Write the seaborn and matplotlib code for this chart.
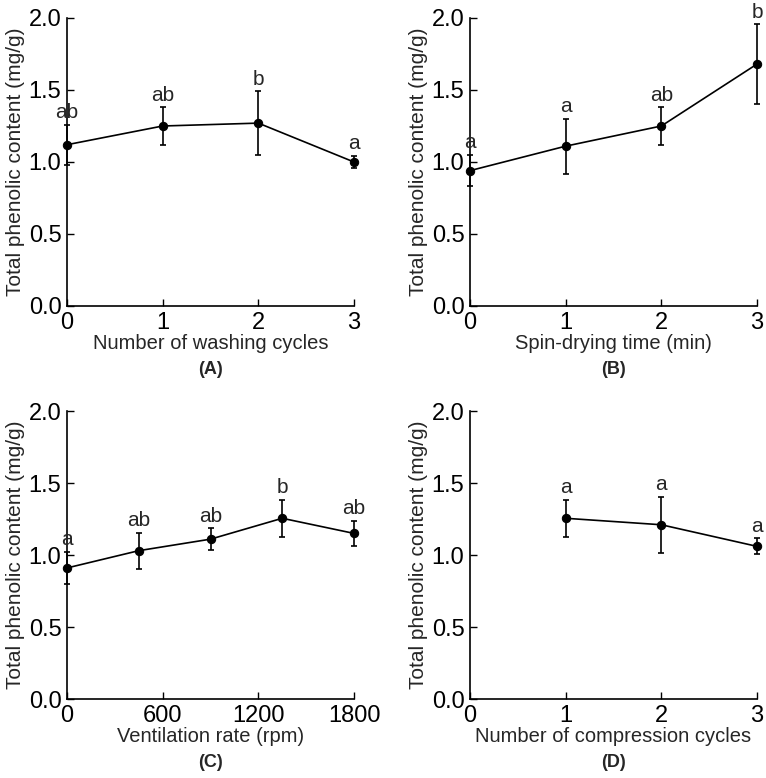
import matplotlib
matplotlib.use("Agg")
import matplotlib.pyplot as plt
import seaborn as sns
import numpy as np
import pandas as pd

# ---- data ----
wash_x = [0, 1, 2, 3]
wash_mean = [1.12, 1.25, 1.27, 1.00]
wash_sd = [0.14, 0.13, 0.22, 0.04]
wash_letters = ["ab", "ab", "b", "a"]

spin_x = [0, 1, 2, 3]
spin_mean = [0.94, 1.11, 1.25, 1.68]
spin_sd = [0.11, 0.19, 0.13, 0.275]
spin_letters = ["a", "a", "ab", "b"]

vent_x = [0, 450, 900, 1350, 1800]
vent_mean = [0.91, 1.03, 1.11, 1.255, 1.15]
vent_sd = [0.11, 0.125, 0.075, 0.13, 0.085]
vent_letters = ["a", "ab", "ab", "b", "ab"]

comp_x = [1, 2, 3]
comp_mean = [1.255, 1.21, 1.06]
comp_sd = [0.13, 0.195, 0.055]
comp_letters = ["a", "a", "a"]

ylabel = "Total phenolic content (mg/g)"
panels = [
    dict(x=wash_x, m=wash_mean, s=wash_sd, l=wash_letters, xlabel="Number of washing cycles",
         cap="(A)", xlim=(0, 3), xticks=[0, 1, 2, 3]),
    dict(x=spin_x, m=spin_mean, s=spin_sd, l=spin_letters, xlabel="Spin-drying time (min)",
         cap="(B)", xlim=(0, 3), xticks=[0, 1, 2, 3]),
    dict(x=vent_x, m=vent_mean, s=vent_sd, l=vent_letters, xlabel="Ventilation rate (rpm)",
         cap="(C)", xlim=(0, 1800), xticks=[0, 600, 1200, 1800]),
    dict(x=comp_x, m=comp_mean, s=comp_sd, l=comp_letters, xlabel="Number of compression cycles",
         cap="(D)", xlim=(0, 3), xticks=[0, 1, 2, 3]),
]

sns.set_theme(style="ticks")
plt.rcParams["font.family"] = ["Liberation Sans", "DejaVu Sans"]

W, H = 766, 778
fig = plt.figure(figsize=(W / 100, H / 100), dpi=100)
boxes = [(67, 18), (470, 18), (67, 411), (470, 411)]
aw, ah = 287, 288

for p, (lx, ty) in zip(panels, boxes):
    ax = fig.add_axes([lx / W, 1 - (ty + ah) / H, aw / W, ah / H])
    df = pd.DataFrame({"x": p["x"], "y": p["m"]})
    ax.errorbar(p["x"], p["m"], yerr=p["s"], fmt="none", ecolor="black",
                elinewidth=1.2, capsize=2.5, capthick=1.2, clip_on=False, zorder=2)
    sns.lineplot(data=df, x="x", y="y", ax=ax, color="black", marker="o",
                 markersize=6, markeredgecolor="black", linewidth=1.2, clip_on=False, zorder=3)
    for xi, mi, si, li in zip(p["x"], p["m"], p["s"], p["l"]):
        ax.annotate(li, (xi, mi + si), xytext=(0, 2), textcoords="offset points",
                    ha="center", va="bottom", fontsize=15, annotation_clip=False)
    ax.set_xlim(*p["xlim"])
    ax.set_ylim(0, 2.0)
    ax.set_xticks(p["xticks"])
    ax.set_yticks([0, 0.5, 1.0, 1.5, 2.0])
    ax.set_yticklabels(["0.0", "0.5", "1.0", "1.5", "2.0"])
    ax.tick_params(direction="in", length=5, width=1, labelsize=17, colors="black", pad=4)
    for sp in ["top", "right"]:
        ax.spines[sp].set_visible(False)
    for sp in ["left", "bottom"]:
        ax.spines[sp].set_linewidth(1.2)
        ax.spines[sp].set_color("black")
    ax.set_xlabel(p["xlabel"], fontsize=14.5, labelpad=0)
    ax.set_ylabel(ylabel, fontsize=15, labelpad=3)
    ax.text(0.5, -0.22, p["cap"], transform=ax.transAxes, ha="center", va="center",
            fontsize=13, fontweight="bold")

fig.savefig("out.png", dpi=100)
